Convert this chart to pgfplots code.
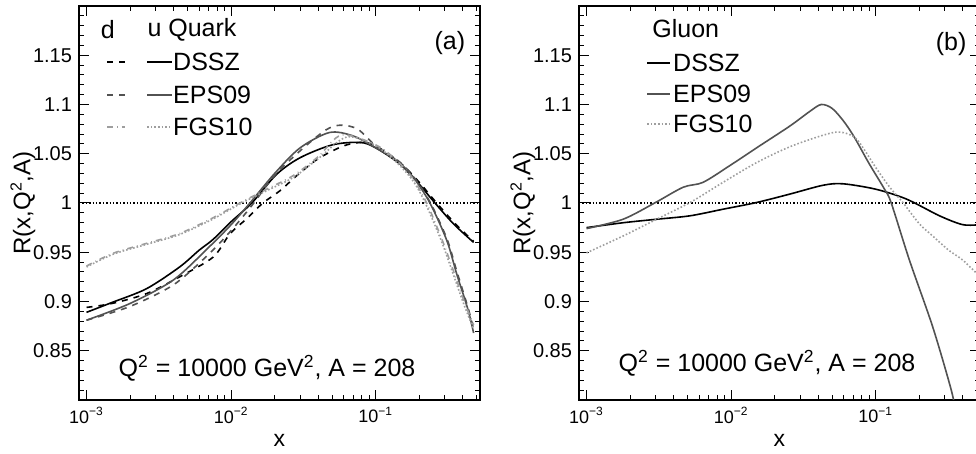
\documentclass[border=0pt]{standalone}
\usepackage{fontspec}
\setmainfont{Liberation Sans}
\usepackage{pgfplots}
\pgfplotsset{compat=1.18}
\definecolor{epsgray}{gray}{0.32}
\definecolor{fgsgray}{gray}{0.62}
\pgfplotsset{
 mypanel/.style={
  scale only axis, width=200.5pt, height=197pt,
  anchor=south west,
  xmin=8.87e-4, xmax=0.526, ymin=0.8, ymax=1.2,
  xtick={1e-3,1e-2,1e-1},
  xticklabels={10\textsuperscript{−3},10\textsuperscript{−2},10\textsuperscript{−1}},
  minor xtick={2e-3,3e-3,4e-3,5e-3,6e-3,7e-3,8e-3,9e-3,2e-2,3e-2,4e-2,5e-2,6e-2,7e-2,8e-2,9e-2,0.2,0.3,0.4,0.5},
  ytick={0.85,0.9,0.95,1,1.05,1.1,1.15},
  minor ytick={0.81,0.82,0.83,0.84,0.86,0.87,0.88,0.89,0.91,0.92,0.93,0.94,0.96,0.97,0.98,0.99,1.01,1.02,1.03,1.04,1.06,1.07,1.08,1.09,1.11,1.12,1.13,1.14,1.16,1.17,1.18,1.19},
  tick align=inside, major tick length=5pt, minor tick length=2.5pt,
  tick style={black, line width=0.5pt},
  axis line style={line width=0.7pt},
  /pgf/number format/assume math mode=true,
  yticklabel style={font=\fontsize{10}{12}\selectfont},
  xticklabel style={font=\fontsize{9}{11}\selectfont},
  xlabel={x},
  xlabel style={font=\fontsize{11.5}{13}\selectfont, at={(axis description cs:0.5,-0.1015)}, anchor=center},
  ylabel={R(x,Q\textsuperscript{2},A)},
  ylabel style={font=\fontsize{12}{14}\selectfont, at={(axis description cs:-0.14,0.5)}, anchor=center},
 },
}
\tikzset{lab/.style={anchor=west, inner sep=0pt, font=\fontsize{12.5}{14}\selectfont},
 cen/.style={anchor=center, inner sep=0pt, font=\fontsize{12.5}{14}\selectfont}}
\begin{document}
\begin{tikzpicture}
% ---------------- panel (a) ----------------
\begin{semilogxaxis}[mypanel, at={(39.5pt,27pt)}]
\addplot[black, densely dotted, line width=0.7pt] coordinates {(8.87e-4,1) (0.526,1)};
% DSSZ u
\addplot[black, smooth, line width=0.8pt] coordinates {
(1e-3,0.889) (1.5e-3,0.899) (2.6e-3,0.913) (4.4e-3,0.935) (6e-3,0.952) (7.5e-3,0.963)
(0.01,0.981) (0.0139,1.0) (0.0206,1.029) (0.03,1.046) (0.05,1.059) (0.078,1.0615)
(0.1,1.056) (0.147,1.0395) (0.2,1.019) (0.25,1.002) (0.344,0.979) (0.475,0.96)};
% DSSZ d
\addplot[black, dashed, smooth, line width=0.8pt] coordinates {
(1e-3,0.894) (1.5e-3,0.898) (2.6e-3,0.908) (4.4e-3,0.925) (7.5e-3,0.945)
(0.0098,0.9686) (0.0128,0.984) (0.0166,1.0) (0.0218,1.0125) (0.0284,1.0277) (0.04,1.045)
(0.06,1.058) (0.08,1.0615) (0.1,1.058) (0.147,1.041) (0.2,1.021) (0.25,1.004) (0.344,0.981) (0.475,0.961)};
% EPS09 u
\addplot[epsgray, smooth, line width=0.8pt] coordinates {
(1e-3,0.881) (2e-3,0.898) (4e-3,0.922) (7e-3,0.955) (0.01,0.978) (0.0135,1.0)
(0.02,1.03) (0.03,1.056) (0.048,1.0716) (0.07,1.068) (0.1,1.056) (0.14,1.043)
(0.182,1.026) (0.237,1.0) (0.31,0.962) (0.363,0.928) (0.436,0.891) (0.475,0.868)};
% EPS09 d
\addplot[epsgray, dashed, smooth, line width=0.8pt] coordinates {
(1e-3,0.881) (2e-3,0.895) (4e-3,0.917) (7e-3,0.948) (0.01,0.972) (0.014,0.998)
(0.02,1.028) (0.03,1.053) (0.045,1.074) (0.057,1.079) (0.075,1.075) (0.1,1.058)
(0.14,1.044) (0.182,1.027) (0.237,1.001) (0.31,0.964) (0.363,0.931) (0.436,0.893) (0.475,0.872)};
% FGS10 u
\addplot[fgsgray, densely dotted, smooth, line width=0.8pt] coordinates {
(1e-3,0.935) (1.53e-3,0.948) (2.6e-3,0.958) (4.4e-3,0.968) (7.5e-3,0.9838) (0.0115,0.999)
(0.0176,1.0125) (0.027,1.026) (0.04,1.045) (0.063,1.067) (0.1,1.058) (0.14,1.041)
(0.182,1.022) (0.22,1.0) (0.28,0.964) (0.33,0.935) (0.4,0.9) (0.475,0.872)};
% FGS10 d
\addplot[fgsgray, dash dot, smooth, line width=0.8pt] coordinates {
(1e-3,0.936) (1.53e-3,0.949) (2.6e-3,0.959) (4.4e-3,0.969) (7.5e-3,0.985) (0.0115,1.0)
(0.0176,1.014) (0.027,1.028) (0.04,1.047) (0.058,1.069) (0.1,1.059) (0.14,1.043)
(0.182,1.024) (0.225,1.0) (0.28,0.967) (0.33,0.939) (0.4,0.904) (0.475,0.876)};
% legend
\node[cen] at (rel axis cs:0.072,0.939) {d};
\node[lab] at (rel axis cs:0.17,0.939) {u Quark};
\draw[black, dashed, line width=0.7pt] (rel axis cs:0.070,0.858) -- (rel axis cs:0.115,0.858);
\draw[epsgray, dashed, line width=0.7pt] (rel axis cs:0.070,0.774) -- (rel axis cs:0.115,0.774);
\draw[fgsgray, dash dot, line width=0.7pt] (rel axis cs:0.070,0.693) -- (rel axis cs:0.115,0.693);
\draw[black, line width=0.8pt] (rel axis cs:0.170,0.858) -- (rel axis cs:0.232,0.858);
\draw[epsgray, line width=0.8pt] (rel axis cs:0.170,0.774) -- (rel axis cs:0.232,0.774);
\draw[fgsgray, densely dotted, line width=0.8pt] (rel axis cs:0.170,0.693) -- (rel axis cs:0.232,0.693);
\node[lab] at (rel axis cs:0.234,0.858) {DSSZ};
\node[lab] at (rel axis cs:0.234,0.774) {EPS09};
\node[lab] at (rel axis cs:0.234,0.693) {FGS10};
\node[cen] at (rel axis cs:0.925,0.906) {(a)};
\node[cen] at (rel axis cs:0.469,0.081) {Q\textsuperscript{2} = 10000 GeV\textsuperscript{2}, A = 208};
\end{semilogxaxis}
% ---------------- panel (b) ----------------
\begin{semilogxaxis}[mypanel, at={(289.5pt,27pt)}]
\addplot[black, densely dotted, line width=0.7pt] coordinates {(8.87e-4,1) (0.526,1)};
% DSSZ g
\addplot[black, smooth, line width=0.8pt] coordinates {
(1e-3,0.975) (1.8e-3,0.98) (3.05e-3,0.9835) (5.2e-3,0.987) (8.8e-3,0.9937) (0.015,1.0005)
(0.0254,1.009) (0.0432,1.018) (0.0593,1.0195) (0.1,1.014) (0.163,1.004) (0.276,0.987) (0.4,0.978) (0.526,0.978)};
% EPS09 g
\addplot[epsgray, smooth, tension=0.5, line width=0.8pt] coordinates {
(1e-3,0.974) (1.79e-3,0.9835) (3e-3,1.0005) (4.66e-3,1.016) (6.4e-3,1.021) (9.8e-3,1.038)
(0.015,1.056) (0.0254,1.078) (0.035,1.093) (0.042,1.1) (0.05,1.096) (0.06,1.083) (0.071,1.067)
(0.09,1.04) (0.115,1.014) (0.128,1.0) (0.171,0.942) (0.248,0.874) (0.333,0.81) (0.36,0.785)};
% FGS10 g
\addplot[fgsgray, densely dotted, smooth, tension=0.5, line width=0.8pt] coordinates {
(1e-3,0.9494) (1.79e-3,0.9665) (3.05e-3,0.9835) (5.2e-3,1.0005) (8.8e-3,1.021) (0.015,1.041)
(0.0254,1.057) (0.043,1.0687) (0.0565,1.072) (0.0735,1.065) (0.1,1.036) (0.125,1.016)
(0.155,1.0) (0.2,0.979) (0.25,0.966) (0.32,0.952) (0.4,0.942) (0.526,0.925)};
% legend
\node[lab] at (rel axis cs:0.182,0.942) {Gluon};
\draw[black, line width=0.8pt] (rel axis cs:0.170,0.856) -- (rel axis cs:0.227,0.856);
\draw[epsgray, line width=0.8pt] (rel axis cs:0.170,0.777) -- (rel axis cs:0.227,0.777);
\draw[fgsgray, densely dotted, line width=0.8pt] (rel axis cs:0.170,0.701) -- (rel axis cs:0.227,0.701);
\node[lab] at (rel axis cs:0.234,0.856) {DSSZ};
\node[lab] at (rel axis cs:0.234,0.777) {EPS09};
\node[lab] at (rel axis cs:0.234,0.701) {FGS10};
\node[cen] at (rel axis cs:0.928,0.904) {(b)};
\node[cen] at (rel axis cs:0.469,0.094) {Q\textsuperscript{2} = 10000 GeV\textsuperscript{2}, A = 208};
\end{semilogxaxis}
\pgfresetboundingbox
\path (0pt,0pt) rectangle (488pt,227pt);
\end{tikzpicture}
\end{document}
